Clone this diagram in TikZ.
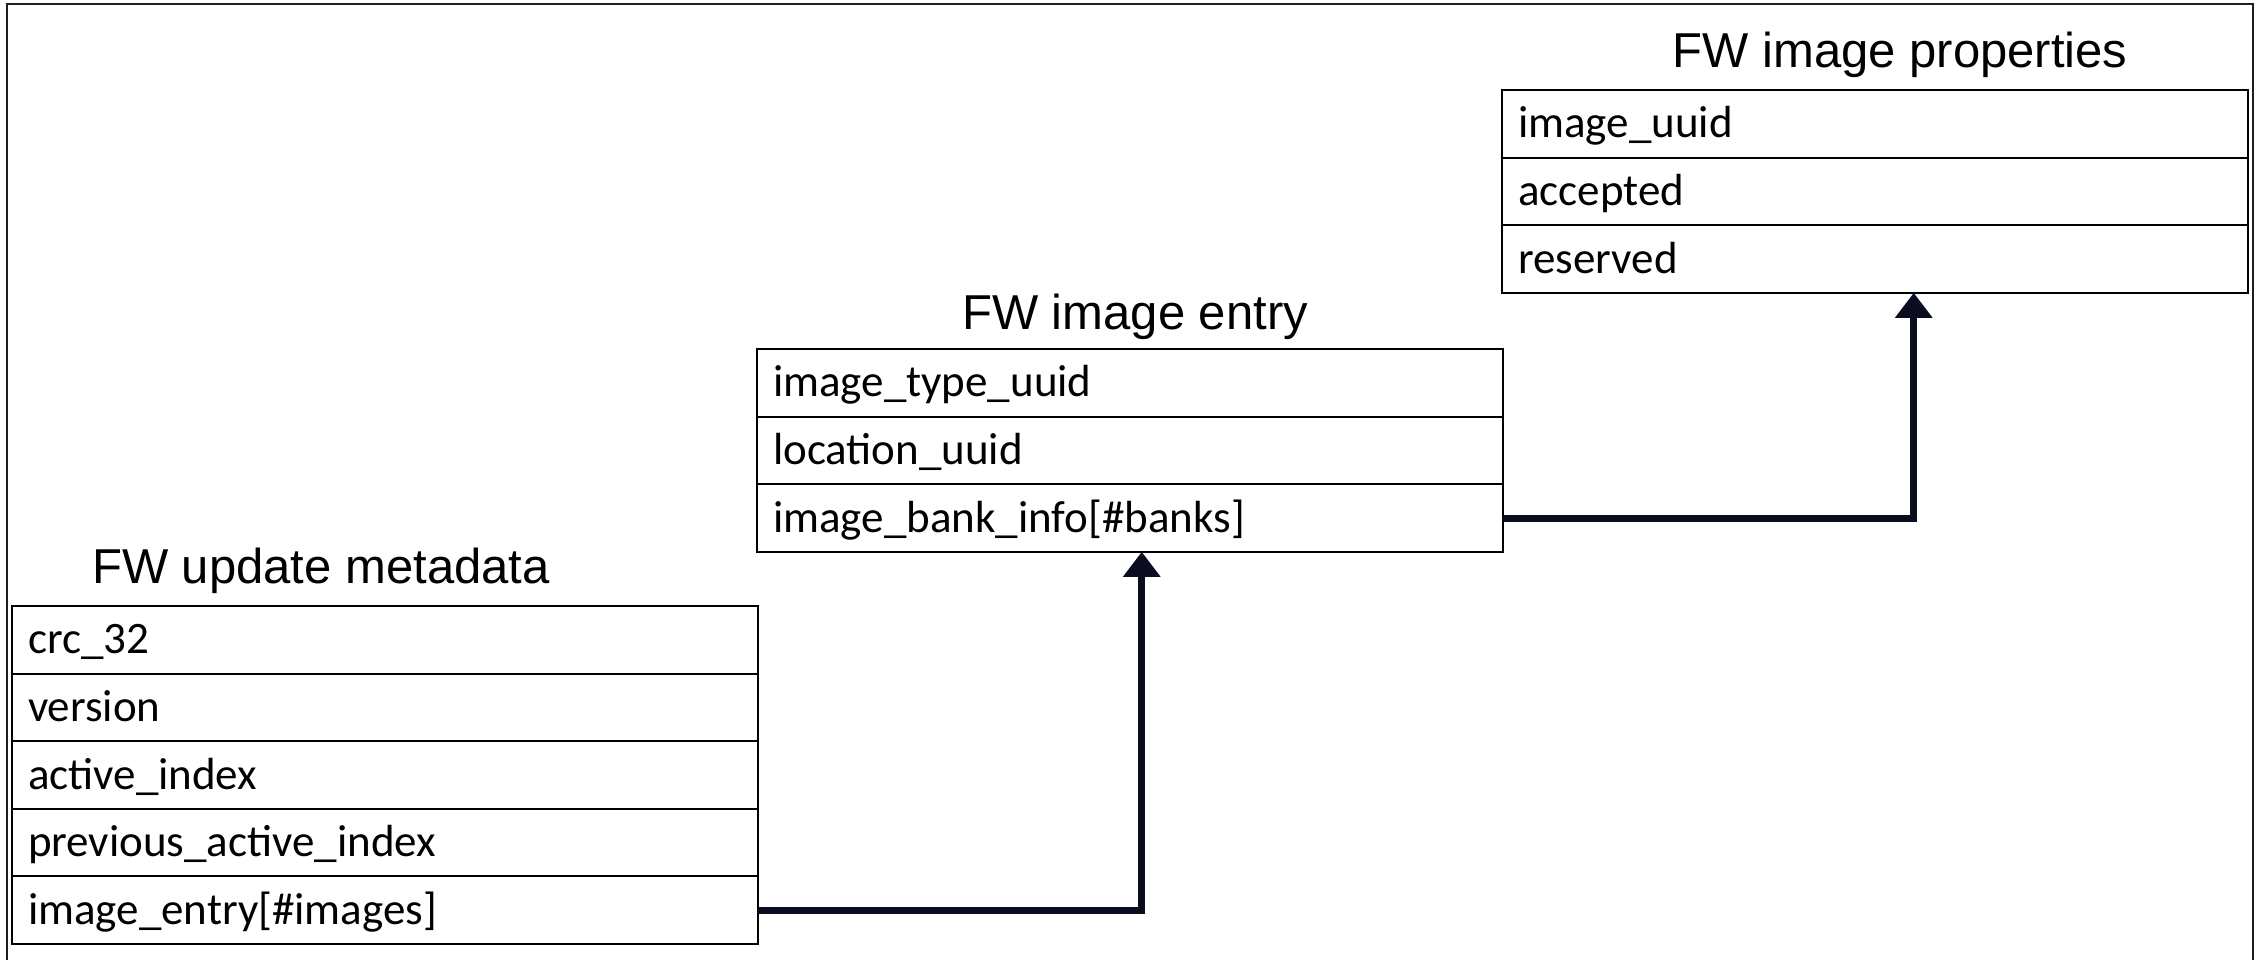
\documentclass[tikz,border=0pt]{standalone}
\usepackage{fontspec}
\setmainfont{Carlito}
\newfontfamily\headfont{Liberation Sans}
\usetikzlibrary{arrows.meta}
\definecolor{linkc}{RGB}{10,12,32}
\definecolor{framec}{RGB}{30,30,30}

\begin{document}
\begin{tikzpicture}[x=1pt,y=-1pt,
  field/.style={draw=black, line width=2pt, rectangle, outer sep=0pt,
    minimum width=745.5pt, minimum height=67.6pt,
    inner xsep=16pt, inner ysep=0pt, text width=713.5pt, align=left,
    text height=38pt, text depth=10pt,
    font=\fontsize{45}{49}\selectfont, anchor=north west},
  heading/.style={font=\headfont\fontsize{49}{53}\selectfont, anchor=base, inner sep=0pt},
  link/.style={line width=7pt, draw=linkc, -{Triangle[width=36pt,length=25pt]}}
]
\useasboundingbox (0,0) rectangle (2262,960);

% outer frame (open at the bottom)
\draw[line width=2.5pt, draw=framec] (7,960) -- (7,4) -- (2253,4) -- (2253,960);

% FW update metadata
\node[heading] (tm) at (321,583) {FW update metadata};
\node[field] (m1) at (12,606) {crc\_32};
\node[field] (m2) at (m1.south west) {version};
\node[field] (m3) at (m2.south west) {active\_index};
\node[field] (m4) at (m3.south west) {previous\_active\_index};
\node[field] (m5) at (m4.south west) {image\_entry[\#images]};

% FW image entry
\node[heading] (te) at (1135,329) {FW image entry};
\node[field] (e1) at (757,349) {image\_type\_uuid};
\node[field] (e2) at (e1.south west) {location\_uuid};
\node[field] (e3) at (e2.south west) {image\_bank\_info[\#banks]};

% FW image properties
\node[heading] (tp) at (1900,68) {FW image properties};
\node[field] (p1) at (1502,90) {image\_uuid};
\node[field] (p2) at (p1.south west) {accepted};
\node[field] (p3) at (p2.south west) {reserved};

% references between the structures
\draw[link] (m5.east) -| ([xshift=12pt]e3.south);
\draw[link] (e3.east) -| ([xshift=39pt]p3.south);
\end{tikzpicture}
\end{document}
